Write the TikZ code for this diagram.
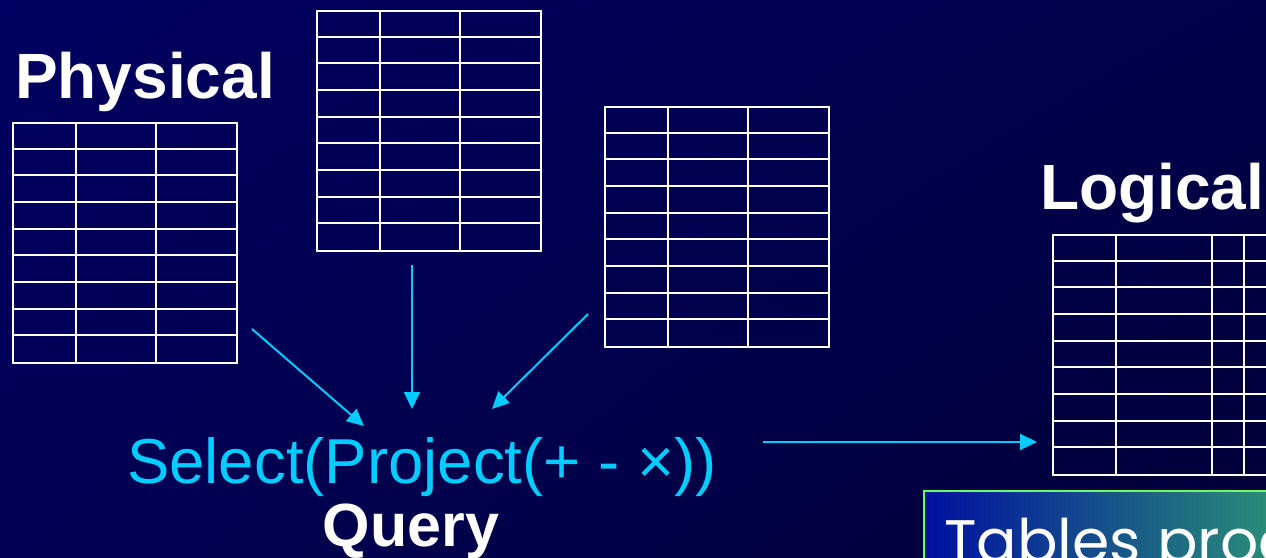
\documentclass[tikz,border=0pt]{standalone}
\usepackage{fontspec}
\setmainfont{Liberation Sans}
\newfontfamily\gothic{Poppins}
\usetikzlibrary{arrows.meta,calc,shadings}
\definecolor{bgTL}{RGB}{0,0,96}
\definecolor{bgTR}{RGB}{0,0,74}
\definecolor{bgBL}{RGB}{0,0,84}
\definecolor{bgBR}{RGB}{0,0,56}
\definecolor{qcyan}{RGB}{0,204,255}
\definecolor{boxgreen}{RGB}{100,255,100}
\definecolor{boxleft}{RGB}{0,16,160}
\definecolor{boxright}{RGB}{44,146,118}
\newcommand{\gridrows}[1]{%
  \foreach \k in {1,...,8}
    \draw[gridline] ($(#1.north west)+(0,\k*26.667)$) -- ($(#1.north east)+(0,\k*26.667)$);}
\newcommand{\gridcol}[2]{%
  \draw[gridline] ($(#1.north west)+(#2,0)$) -- ($(#1.south west)+(#2,0)$);}
\begin{document}
\begin{tikzpicture}[x=1pt,y=-1pt,
  gridline/.style={draw=white,line width=2pt},
  tablebox/.style={draw=white,line width=2pt,inner sep=0pt,anchor=north west,
    minimum width=224pt,minimum height=240pt},
  arr/.style={draw=qcyan,line width=2pt,-{Triangle[length=17pt,width=16pt]}},
  title/.style={font=\fontsize{64}{64}\selectfont\bfseries,text=white,inner sep=0pt,anchor=base west},
]
\useasboundingbox (0,0) rectangle (1266,557);
\clip (0,0) rectangle (1266,557);
\shade[upper left=bgTL,upper right=bgTR,lower left=bgBL,lower right=bgBR] (0,0) rectangle (1266,557);

% bottom-right caption box
\node[draw=boxgreen,line width=2pt,left color=boxleft,right color=boxright,
  anchor=north west,minimum width=360pt,minimum height=100pt,inner sep=0pt] (box) at (923,490) {};
\node[anchor=base west,inner sep=0pt,text=white,font=\gothic\fontsize{60}{60}\selectfont] (tp) at (944,562) {Tables prod};

% titles
\node[title] (phys) at (15,98) {Physical};
\node[title] (logi) at (1040,209) {Logical};

% tables
\node[tablebox] (t1) at (12,122) {};
\gridrows{t1}\gridcol{t1}{64}\gridcol{t1}{144}
\node[tablebox] (t2) at (316,10) {};
\gridrows{t2}\gridcol{t2}{64}\gridcol{t2}{144}
\node[tablebox] (t3) at (604,106) {};
\gridrows{t3}\gridcol{t3}{64}\gridcol{t3}{144}
\node[tablebox,minimum width=260pt] (t4) at (1052,234) {};
\gridrows{t4}\gridcol{t4}{64}\gridcol{t4}{160}\gridcol{t4}{192}

% query text
\node[anchor=base west,inner sep=0pt,text=qcyan,font=\fontsize{63.5}{63.5}\selectfont] (sel) at (127,483) {Select(Project(+ - ×))};
\node[anchor=base,inner sep=0pt,text=white,font=\fontsize{61}{61}\selectfont\bfseries] (query) at (411,546) {Query};

% arrows
\coordinate (a1s) at (252,329); \coordinate (a1e) at (364,426);
\coordinate (a2s) at (412,265); \coordinate (a2e) at (412,409);
\coordinate (a3s) at (588,314); \coordinate (a3e) at (492,409);
\coordinate (a4s) at (763,442); \coordinate (a4e) at (1037,442);
\draw[arr] (a1s) -- (a1e);
\draw[arr] (a2s) -- (a2e);
\draw[arr] (a3s) -- (a3e);
\draw[arr] (a4s) -- (a4e);
\end{tikzpicture}
\end{document}
